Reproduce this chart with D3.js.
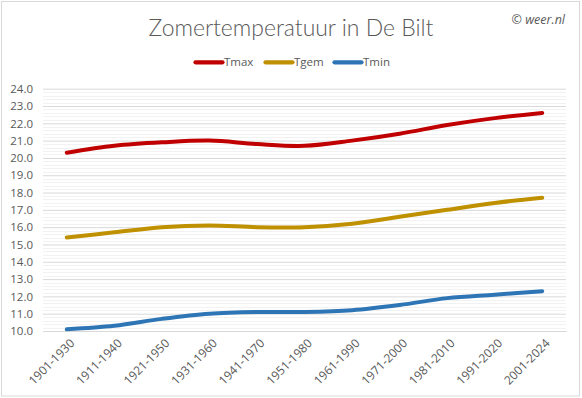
<!DOCTYPE html>
<html>
<head>
<meta charset="utf-8">
<script src="https://cdn.jsdelivr.net/npm/d3@7"></script>
<style>
  html, body { margin: 0; padding: 0; background: #fff; }
  svg { display: block; }
</style>
</head>
<body>
<svg id="chart" width="582" height="398"></svg>
<script>
const categories = ["1901-1930","1911-1940","1921-1950","1931-1960","1941-1970","1951-1980","1961-1990","1971-2000","1981-2010","1991-2020","2001-2024"];
const tmax = [20.3, 20.7, 20.9, 21.0, 20.8, 20.7, 21.0, 21.4, 21.9, 22.3, 22.6];
const tgem = [15.4, 15.7, 16.0, 16.1, 16.0, 16.0, 16.2, 16.6, 17.0, 17.4, 17.7];
const tmin = [10.1, 10.3, 10.7, 11.0, 11.1, 11.1, 11.2, 11.5, 11.9, 12.1, 12.3];
const yTicks = [10,11,12,13,14,15,16,17,18,19,20,21,22,23,24];
const seriesNames = ["Tmax","Tgem","Tmin"];
const seriesColors = ["#C00000","#BF9000","#2E75B6"];
const titleText = "Zomertemperatuur in De Bilt";
const creditText = "© weer.nl";

const series = [tmax, tgem, tmin].map((v, i) => ({name: seriesNames[i], color: seriesColors[i], values: v}));

const svg = d3.select("#chart");
const W = 582, H = 398;
const font = "'Open Sans', 'Liberation Sans', sans-serif";
const textColor = "#595959";

// border
svg.append("rect").attr("x", 1.5).attr("y", 1.5).attr("width", W - 4).attr("height", H - 3.5)
  .attr("fill", "#fff").attr("stroke", "#D9D9D9").attr("stroke-width", 1);

const plot = {left: 43, right: 566, top: 88.7, bottom: 331};
const x = d3.scalePoint().domain(categories).range([plot.left, plot.right]).padding(0.5);
const y = d3.scaleLinear().domain([10, 24]).range([plot.bottom, plot.top]);

// minor gridlines
const minor = d3.range(10, 24.001, 0.2).filter(v => Math.abs(v - Math.round(v)) > 1e-6);
svg.append("g").selectAll("line").data(minor).join("line")
  .attr("x1", plot.left).attr("x2", plot.right)
  .attr("y1", d => Math.round(y(d)) + 0.5).attr("y2", d => Math.round(y(d)) + 0.5)
  .attr("stroke", "#F2F2F2").attr("stroke-width", 1);

// y axis with major gridlines
const yAxis = d3.axisLeft(y).tickValues(yTicks).tickFormat(d3.format(".1f"))
  .tickSize(-(plot.right - plot.left)).tickPadding(10);
const gy = svg.append("g").attr("transform", `translate(${plot.left},0)`).call(yAxis);
gy.select(".domain").remove();
gy.selectAll(".tick line").attr("stroke", "#D9D9D9").attr("stroke-width", 1);
gy.selectAll(".tick text").attr("fill", textColor).style("font-family", font).style("font-size", "11.5px");

// x axis
const xAxis = d3.axisBottom(x).tickSize(0).tickPadding(0);
const gx = svg.append("g").attr("transform", `translate(0,${plot.bottom})`).call(xAxis);
gx.select(".domain").attr("stroke", "#D9D9D9");
gx.selectAll(".tick text")
  .attr("fill", textColor).style("font-family", font).style("font-size", "12px")
  .attr("text-anchor", "end")
  .attr("dy", "0.35em")
  .attr("transform", "translate(5,10) rotate(-45)");

// lines
const line = d3.line().x((d, i) => x(categories[i])).y(d => y(d)).curve(d3.curveCatmullRom.alpha(0.5));
svg.append("g").selectAll("path").data(series).join("path")
  .attr("d", d => line(d.values))
  .attr("fill", "none").attr("stroke", d => d.color).attr("stroke-width", 4)
  .attr("stroke-linecap", "round").attr("stroke-linejoin", "round");

// title
const title = svg.append("text").attr("x", W / 2).attr("y", 35.7).attr("text-anchor", "middle")
  .attr("fill", textColor).style("font-family", "Lato, 'Open Sans', sans-serif").style("font-weight", 300)
  .style("font-size", "24px").text(titleText);
const tw = title.node().getComputedTextLength();
title.style("font-size", (24 * 285 / tw).toFixed(2) + "px");

// credit
svg.append("text").attr("x", 565).attr("y", 24).attr("text-anchor", "end")
  .attr("fill", textColor).style("font-family", font).style("font-style", "italic")
  .style("font-size", "12.5px").text(creditText);

// legend
const legendX = [194, 264, 333];
const lg = svg.append("g").selectAll("g").data(series).join("g")
  .attr("transform", (d, i) => `translate(${legendX[i]},62.3)`);
lg.append("line").attr("x1", 1.5).attr("x2", 28.5).attr("y1", 0).attr("y2", 0)
  .attr("stroke", d => d.color).attr("stroke-width", 4.2).attr("stroke-linecap", "round");
lg.append("text").attr("x", 30).attr("y", 0).attr("dy", "0.35em")
  .attr("fill", textColor).style("font-family", font).style("font-size", "11.5px")
  .text(d => d.name);
</script>
</body>
</html>
